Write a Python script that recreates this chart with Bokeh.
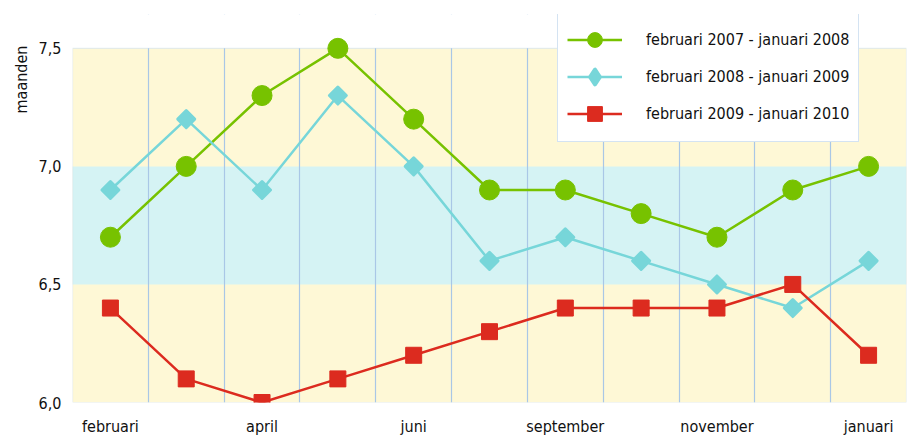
import math
from bokeh.plotting import figure
from bokeh.models import FixedTicker, BoxAnnotation, Legend, LegendItem, Range1d, Title
from bokeh.embed import file_html
from bokeh.resources import INLINE

months = ["februari", "maart", "april", "mei", "juni", "juli/augustus",
          "september", "oktober", "november", "december", "januari"]
label_months = {0: "februari", 2: "april", 4: "juni", 6: "september", 8: "november", 10: "januari"}
y_ticks = [6.0, 6.5, 7.0, 7.5]
y_labels = ["6,0", "6,5", "7,0", "7,5"]

s2007 = [6.7, 7.0, 7.3, 7.5, 7.2, 6.9, 6.9, 6.8, 6.7, 6.9, 7.0]
s2008 = [6.9, 7.2, 6.9, 7.3, 7.0, 6.6, 6.7, 6.6, 6.5, 6.4, 6.6]
s2009 = [6.4, 6.1, 6.0, 6.1, 6.2, 6.3, 6.4, 6.4, 6.4, 6.5, 6.2]
names = ["februari 2007 - januari 2008", "februari 2008 - januari 2009", "februari 2009 - januari 2010"]

FONT = "DejaVu Sans Condensed, Roboto Condensed, Liberation Sans Narrow, Roboto, sans-serif"
GREEN = "#77c200"
CYAN = "#77d6d9"
RED = "#dc2b1f"
YELLOW = "#fef8d6"
LCYAN = "#d5f3f4"
BORDER = "#a9c7e6"

x = list(range(len(months)))
Y_MIN, Y_MAX = 6.0, 7.5
Y_TOP = Y_MAX + 34 * (Y_MAX - Y_MIN) / 356  # white room above the chart for the legend

p = figure(width=912, height=438, output_backend="svg", toolbar_location=None,
           x_range=Range1d(-0.5, len(months) - 0.5), y_range=Range1d(Y_MIN, Y_TOP),
           min_border_left=72, min_border_right=6, min_border_top=14, min_border_bottom=34)
p.background_fill_color = "white"
p.border_fill_color = "white"
p.outline_line_color = None

p.add_layout(BoxAnnotation(bottom=Y_MIN, top=Y_MAX, fill_color=YELLOW, fill_alpha=1, line_alpha=0, level="image"))
p.add_layout(BoxAnnotation(bottom=6.5, top=7.0, fill_color=LCYAN, fill_alpha=1, line_alpha=0, level="image"))

p.xgrid.ticker = FixedTicker(ticks=[i + 0.5 for i in range(len(months) - 1)])
p.xgrid.grid_line_color = BORDER
p.xgrid.grid_line_width = 1.2
p.ygrid.visible = False

# white area above the chart (covers grid lines) and chart outline
p.add_layout(BoxAnnotation(bottom=Y_MAX, fill_color="white", fill_alpha=1, line_alpha=0, level="underlay"))
p.add_layout(BoxAnnotation(bottom=Y_MIN, top=Y_MAX, fill_alpha=0, line_color=BORDER, line_width=1.2,
                           level="underlay"))

p.xaxis.ticker = FixedTicker(ticks=list(label_months.keys()))
p.xaxis.major_label_overrides = {k: v for k, v in label_months.items()}
p.yaxis.ticker = FixedTicker(ticks=y_ticks)
p.yaxis.major_label_overrides = {t: l for t, l in zip(y_ticks, y_labels)}
for ax in (p.xaxis, p.yaxis):
    ax.axis_line_color = None
    ax.major_tick_line_color = None
    ax.minor_tick_line_color = None
    ax.major_tick_out = 0
    ax.major_tick_in = 0
    ax.major_label_text_font = FONT
    ax.major_label_text_font_size = "16px"
    ax.major_label_text_color = "#111111"
p.xaxis.major_label_standoff = 14
p.yaxis.major_label_standoff = 11

ylab = Title(text="maanden", align="right", offset=31, text_font=FONT, text_font_size="16px",
             text_font_style="normal", text_color="#111111")
p.add_layout(ylab, "left")

l1 = p.line(x, s2007, line_color=GREEN, line_width=2.5)
m1 = p.scatter(x, s2007, marker="circle", size=20, fill_color=GREEN, line_color=GREEN)
l2 = p.line(x, s2008, line_color=CYAN, line_width=2.5)
# diamond shape used for the legend key (hidden under the plotted markers)
m2_key = p.scatter(x, s2008, marker="diamond", size=2, fill_color=CYAN, line_color=CYAN,
                   line_width=4, line_join="round")
m2 = p.scatter(x, s2008, marker="square", size=12, angle=math.pi / 4, fill_color=CYAN,
               line_color=CYAN, line_width=3, line_join="round")
l3 = p.line(x, s2009, line_color=RED, line_width=2.5)
m3 = p.scatter(x, s2009, marker="square", size=16, fill_color=RED, line_color=RED)

legend = Legend(items=[LegendItem(label=names[0], renderers=[l1, m1]),
                       LegendItem(label=names[1], renderers=[l2, m2_key]),
                       LegendItem(label=names[2], renderers=[l3, m3])],
                location=(485, 260))
legend.label_text_font = FONT
legend.label_text_font_size = "16px"
legend.label_text_color = "#111111"
legend.glyph_width = 55
legend.glyph_height = 37
legend.label_height = 37
legend.label_standoff = 24
legend.spacing = 0
legend.padding = 9
legend.margin = 0
legend.border_line_color = BORDER
legend.border_line_width = 1.2
legend.background_fill_color = "white"
legend.background_fill_alpha = 1
p.add_layout(legend, "center")

open("out.html", "w").write(file_html(p, INLINE))
